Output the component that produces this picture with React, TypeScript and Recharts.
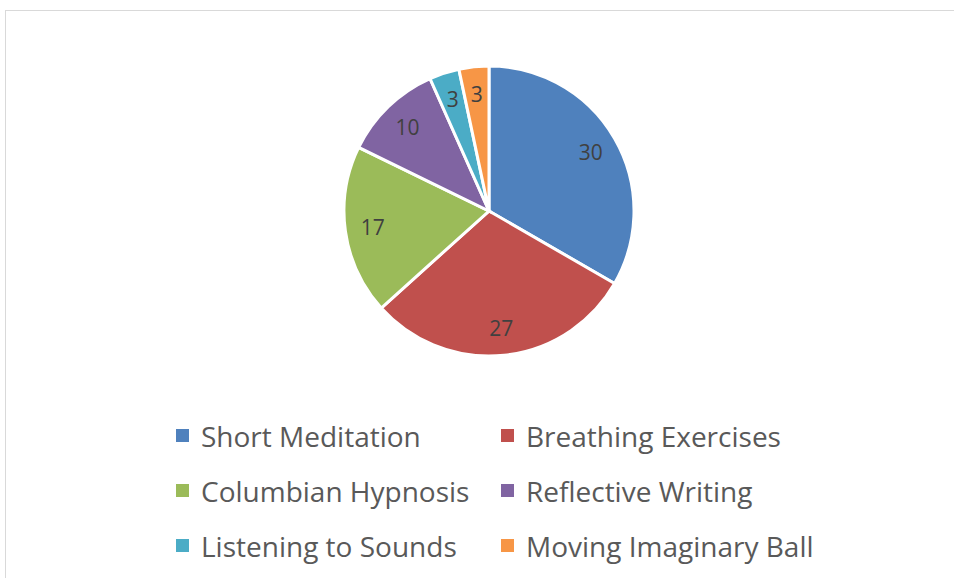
import { PieChart, Pie, Cell, Legend } from 'recharts';

const categories = [
  'Short Meditation',
  'Breathing Exercises',
  'Columbian Hypnosis',
  'Reflective Writing',
  'Listening to Sounds',
  'Moving Imaginary Ball',
];
const counts = [30, 27, 17, 10, 3, 3];
const COLORS = ['#4f81bd', '#c0504d', '#9bbb59', '#8064a2', '#4bacc6', '#f79646'];

const data = categories.map((name, i) => ({ name, value: counts[i] }));

const FONT = '"Open Sans", sans-serif';
const RAD = Math.PI / 180;

// value labels sit inside the slices
const renderLabel = (props: any) => {
  const { cx, cy, midAngle, outerRadius, value } = props;
  const r = outerRadius * 0.81;
  const x = cx + r * Math.cos(-midAngle * RAD);
  const y = cy + r * Math.sin(-midAngle * RAD);
  return (
    <text
      x={x}
      y={y}
      fill="#404040"
      fontSize={21}
      fontFamily={FONT}
      textAnchor="middle"
      dominantBaseline="central"
    >
      {value}
    </text>
  );
};

const renderLegend = () => (
  <div
    style={{
      display: 'grid',
      gridTemplateColumns: '325px 325px',
      marginLeft: 176,
      fontFamily: FONT,
    }}
  >
    {data.map((d, i) => (
      <div key={d.name} style={{ display: 'flex', alignItems: 'center', height: 55 }}>
        <span
          style={{
            width: 13,
            height: 13,
            background: COLORS[i],
            display: 'inline-block',
            marginRight: 12,
            flex: 'none',
          }}
        />
        <span style={{ fontSize: 28, color: '#595959', whiteSpace: 'nowrap' }}>{d.name}</span>
      </div>
    ))}
  </div>
);

export default function App() {
  return (
    <div
      style={{
        position: 'absolute',
        left: 0,
        top: 0,
        width: 954,
        height: 578,
        overflow: 'hidden',
        background: '#fff',
      }}
    >
      <div
        style={{
          position: 'absolute',
          left: 5,
          top: 10,
          width: 1000,
          height: 700,
          border: '1px solid #d9d9d9',
        }}
      />
      <div style={{ position: 'absolute', left: 0, top: 0 }}>
        <PieChart width={954} height={578} margin={{ top: 0, right: 0, bottom: 0, left: 0 }}>
          <Pie
            data={data}
            dataKey="value"
            nameKey="name"
            cx={489}
            cy={211}
            outerRadius={145}
            startAngle={90}
            endAngle={-270}
            stroke="#fff"
            strokeWidth={3}
            label={renderLabel}
            labelLine={false}
            isAnimationActive={false}
          >
            {data.map((d, i) => (
              <Cell key={d.name} fill={COLORS[i]} />
            ))}
          </Pie>
          <Legend
            content={renderLegend}
            verticalAlign="bottom"
            wrapperStyle={{ left: 0, top: 408, bottom: 'auto', width: 954 }}
          />
        </PieChart>
      </div>
    </div>
  );
}
